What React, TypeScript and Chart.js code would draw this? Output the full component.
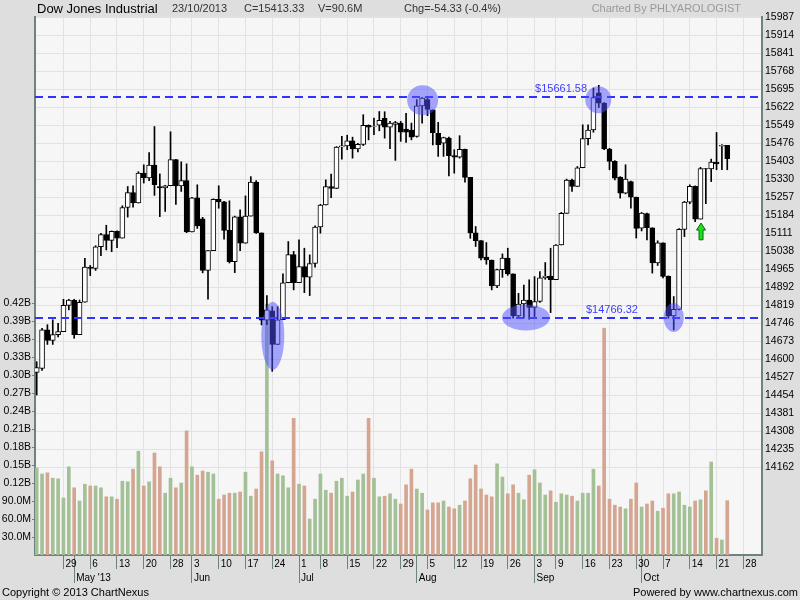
import React, { useEffect, useRef } from "react";
import { Chart, registerables } from "chart.js";

Chart.register(...registerables);

// ---------- DATA (Dow Jones Industrial, daily, 22 Apr 2013 – 23 Oct 2013) ----------
const openP = [
  14547, 14563, 14719, 14676, 14700, 14712, 14818, 14839, 14700, 14831,
  14973, 14968, 15056, 15105, 15082, 15118, 15091, 15215, 15275, 15233,
  15354, 15335, 15387, 15300, 15294, 15303, 15409, 15302, 15324, 15116,
  15254, 15169, 14960, 15040, 15248, 15238, 15122, 14995, 15177, 15070,
  15180, 15318, 15112, 14758, 14796, 14660, 14760, 14910, 15024, 14910,
  14975, 14933, 14988, 15136, 15225, 15300, 15292, 15460, 15465, 15485,
  15452, 15471, 15548, 15544, 15549, 15576, 15541, 15552, 15557, 15533,
  15529, 15503, 15627, 15652, 15611, 15516, 15476, 15496, 15425, 15419,
  15451, 15337, 15112, 15081, 15014, 15002, 14897, 14963, 15010, 14946,
  14776, 14824, 14840, 14810, 14834, 14930, 14937, 14922, 15063, 15191,
  15326, 15300, 15376, 15494, 15529, 15680, 15638, 15452, 15402, 15338,
  15273, 15320, 15257, 15131, 15190, 15133, 14990, 15072, 14936, 14776,
  14802, 15126, 15237, 15301, 15168, 15373, 15371, 15399, 15463, 15467,
];
const highP = [
  14590, 14725, 14740, 14760, 14746, 14843, 14843, 14843, 14840, 15009,
  14980, 15060, 15110, 15143, 15120, 15120, 15222, 15300, 15303, 15360,
  15388, 15438, 15543, 15351, 15305, 15522, 15410, 15400, 15392, 15256,
  15307, 15175, 15040, 15250, 15303, 15240, 15242, 15180, 15205, 15262,
  15340, 15324, 15112, 14858, 14813, 14813, 14946, 15077, 15037, 15084,
  15050, 15023, 15141, 15228, 15327, 15350, 15462, 15503, 15508, 15500,
  15475, 15591, 15550, 15577, 15604, 15603, 15564, 15564, 15564, 15597,
  15557, 15652, 15660, 15658, 15611, 15560, 15500, 15500, 15449, 15506,
  15452, 15337, 15138, 15081, 15073, 15002, 14965, 15027, 15050, 14946,
  14867, 14901, 14922, 14935, 14955, 14992, 15050, 15065, 15195, 15330,
  15330, 15381, 15550, 15550, 15699, 15710, 15640, 15455, 15405, 15340,
  15388, 15322, 15257, 15195, 15192, 15133, 15080, 15072, 14938, 14854,
  15130, 15240, 15307, 15303, 15378, 15373, 15411, 15519, 15470, 15467,
];
const lowP = [
  14455, 14555, 14660, 14660, 14690, 14712, 14800, 14685, 14700, 14831,
  14939, 14960, 15020, 15043, 15036, 15052, 15091, 15176, 15216, 15233,
  15314, 15324, 15264, 15178, 15199, 15303, 15227, 15280, 15113, 15116,
  15130, 14950, 14843, 15040, 15212, 15087, 14990, 14951, 15040, 15070,
  15180, 15110, 14739, 14740, 14551, 14660, 14760, 14910, 14881, 14910,
  14870, 14858, 14973, 15111, 15225, 15255, 15292, 15411, 15449, 15415,
  15440, 15466, 15489, 15510, 15526, 15496, 15453, 15406, 15483, 15479,
  15489, 15500, 15557, 15587, 15469, 15422, 15422, 15343, 15354, 15415,
  15318, 15090, 15057, 15003, 14985, 14881, 14890, 14932, 14940, 14766,
  14766, 14766, 14762, 14773, 14830, 14924, 14789, 14922, 15063, 15191,
  15280, 15300, 15376, 15469, 15520, 15620, 15449, 15368, 15327, 15253,
  15270, 15212, 15091, 15120, 15084, 14949, 14980, 14930, 14766, 14719,
  14800, 15097, 15230, 15158, 15168, 15230, 15320, 15368, 15368, 15368,
];
const closeP = [
  14566, 14719, 14676, 14700, 14712, 14818, 14840, 14700, 14831, 14973,
  14968, 15056, 15105, 15082, 15118, 15091, 15215, 15275, 15233, 15354,
  15335, 15387, 15307, 15294, 15303, 15409, 15302, 15324, 15116, 15254,
  15140, 14960, 15040, 15248, 15238, 15122, 14995, 15177, 15070, 15180,
  15318, 15112, 14758, 14800, 14660, 14760, 14910, 15024, 14910, 14975,
  14933, 14988, 15136, 15225, 15300, 15292, 15460, 15465, 15485, 15452,
  15471, 15548, 15540, 15545, 15568, 15541, 15557, 15559, 15520, 15520,
  15500, 15627, 15658, 15612, 15518, 15470, 15498, 15425, 15419, 15451,
  15337, 15112, 15081, 15010, 15002, 14897, 14963, 15010, 14946, 14776,
  14824, 14840, 14810, 14834, 14930, 14937, 14922, 15063, 15191, 15326,
  15300, 15376, 15494, 15529, 15660, 15638, 15452, 15402, 15334, 15273,
  15330, 15257, 15130, 15192, 15133, 14990, 15072, 14936, 14776, 14802,
  15126, 15237, 15301, 15168, 15373, 15371, 15399, 15392, 15467, 15413,
];
// volume in millions of shares
const volumeM = [
  145, 135, 137, 128, 127, 95, 147, 112, 90, 118,
  115, 115, 112, 97, 97, 93, 123, 122, 143, 173,
  115, 122, 170, 147, 103, 128, 112, 120, 207, 147,
  133, 140, 138, 135, 93, 100, 103, 103, 105, 138,
  98, 110, 172, 418, 157, 135, 132, 112, 228, 118,
  115, 60, 93, 135, 108, 103, 123, 128, 98, 105,
  125, 135, 228, 128, 97, 98, 102, 93, 85, 117,
  143, 110, 103, 75, 87, 87, 90, 80, 77, 83,
  90, 127, 150, 110, 100, 97, 152, 130, 102, 117,
  103, 92, 133, 142, 120, 100, 107, 88, 102, 100,
  98, 90, 103, 103, 143, 115, 378, 93, 83, 80,
  77, 93, 120, 80, 85, 90, 73, 78, 102, 102,
  105, 83, 80, 90, 92, 107, 155, 28, 25, 90.6,
];

// trading-day index of each weekly tick and its label
const weekTickIdx = [5, 10, 15, 20, 25, 29, 34, 39, 44, 49, 53, 58, 63, 68, 73, 78, 83, 88, 93, 97, 102, 107, 112, 117, 122, 127, 132];
const weekTickLabels = ["29", "6", "13", "20", "28", "3", "10", "17", "24", "1", "8", "15", "22", "29", "5", "12", "19", "26", "3", "9", "16", "23", "30", "7", "14", "21", "28"];
const monthTickIdx = [7, 29, 49, 71, 93, 113];
const monthTickLabels = ["May '13", "Jun", "Jul", "Aug", "Sep", "Oct"];

const priceTicks = Array.from({ length: 26 }, (_, k) => 14162 + 73 * k);
const volumeTicksM = [30, 60, 90, 120, 150, 180, 210, 240, 270, 300, 330, 360, 390, 420];

const levelPrices = [15661.58, 14766.32];
const levelLabelIdx = [93.1, 102.6];

// highlight ellipses: day index, price, radius x px, radius y px
const highlightIdx = [72.1, 104.9, 44.1, 91.4, 119.0];
const highlightPrice = [15650, 15652, 14695, 14769, 14769];
const highlightRx = [15.5, 13, 11.5, 24, 10];
const highlightRy = [15, 13.5, 34, 13, 14.5];

const arrowIdx = 124.1;
const arrowTop = 15152;
const arrowBottom = 15084;

const X_MIN = -0.318;
const X_MAX = 135.49;
const P_MIN = 13806.6;
const P_MAX = 15987;
const V_MAX = 896.7;

const AXIS = "#6f8282";
const GRID = "#e2e2e2";
const FONT = '"Liberation Sans", Arial, sans-serif';

const fmtVol = (v: number) => (v < 100 ? v.toFixed(1) + "M" : (v / 1000).toFixed(2) + "B");

// ticks for the day axis: every week, plus month starts that are not week ticks (tick mark only)
const dayAxisTicks = Array.from(new Set([...weekTickIdx, ...monthTickIdx])).sort((a, b) => a - b);

const decor = {
  id: "decor",
  beforeDraw(chart: any) {
    const { ctx, chartArea: a } = chart;
    ctx.save();
    ctx.fillStyle = "#dedede";
    ctx.fillRect(0, 0, chart.width, chart.height);
    ctx.fillStyle = "#f6f6f6";
    ctx.fillRect(a.left, a.top, a.right - a.left, a.bottom - a.top);
    ctx.restore();
  },
  afterDatasetsDraw(chart: any) {
    const { ctx, chartArea: a } = chart;
    const xs = chart.scales.x;
    const ys = chart.scales.yp;
    ctx.save();
    // level lines
    ctx.strokeStyle = "rgb(50,50,255)";
    ctx.lineWidth = 2;
    ctx.setLineDash([8, 5]);
    levelPrices.forEach((p) => {
      const y = Math.round(ys.getPixelForValue(p));
      ctx.beginPath();
      ctx.moveTo(a.left, y);
      ctx.lineTo(a.right, y);
      ctx.stroke();
    });
    ctx.setLineDash([]);
    ctx.fillStyle = "rgb(60,60,255)";
    ctx.font = "11px " + FONT;
    ctx.textBaseline = "middle";
    ctx.textAlign = "left";
    levelPrices.forEach((p, i) => {
      const y = ys.getPixelForValue(p);
      ctx.fillText("$" + p.toFixed(2), xs.getPixelForValue(levelLabelIdx[i]), y - 8);
    });
    // highlight ellipses
    ctx.fillStyle = "rgba(80,80,255,0.5)";
    highlightIdx.forEach((d, i) => {
      ctx.beginPath();
      ctx.ellipse(xs.getPixelForValue(d), ys.getPixelForValue(highlightPrice[i]), highlightRx[i], highlightRy[i], 0, 0, Math.PI * 2);
      ctx.fill();
    });
    // green arrow
    const ax = xs.getPixelForValue(arrowIdx);
    const at = ys.getPixelForValue(arrowTop);
    const ab = ys.getPixelForValue(arrowBottom);
    ctx.beginPath();
    ctx.moveTo(ax, at);
    ctx.lineTo(ax + 4.5, at + 7);
    ctx.lineTo(ax + 2, at + 7);
    ctx.lineTo(ax + 2, ab);
    ctx.lineTo(ax - 2, ab);
    ctx.lineTo(ax - 2, at + 7);
    ctx.lineTo(ax - 4.5, at + 7);
    ctx.closePath();
    ctx.fillStyle = "#1fe01f";
    ctx.fill();
    ctx.strokeStyle = "#0a6a0a";
    ctx.lineWidth = 1;
    ctx.stroke();
    ctx.restore();
  },
  afterDraw(chart: any) {
    const { ctx } = chart;
    ctx.save();
    ctx.textBaseline = "middle";
    ctx.textAlign = "left";
    ctx.fillStyle = "#000";
    ctx.font = "13px " + FONT;
    ctx.fillText("Dow Jones Industrial", 37, 9);
    ctx.font = "11px " + FONT;
    ctx.fillStyle = "#333";
    ctx.fillText("23/10/2013", 172, 9);
    ctx.fillText("C=15413.33", 244, 9);
    ctx.fillText("V=90.6M", 318, 9);
    ctx.fillText("Chg=-54.33 (-0.4%)", 404, 9);
    ctx.fillStyle = "#9a9a9a";
    ctx.textAlign = "right";
    ctx.fillText("Charted By PHLYAROLOGIST", 741, 9);
    ctx.fillStyle = "#000";
    ctx.fillText("Powered by www.chartnexus.com", 798, 593);
    ctx.textAlign = "left";
    ctx.fillText("Copyright \u00A9 2013 ChartNexus", 2, 593);
    ctx.restore();
  },
};

export default function App() {
  const ref = useRef<HTMLCanvasElement>(null);
  useEffect(() => {
    document.body.style.margin = "0";
    const idx = openP.map((_, i) => i);
    const up = idx.map((i) => closeP[i] >= openP[i]);
    const chart = new Chart(ref.current as HTMLCanvasElement, {
      type: "bar",
      data: {
        datasets: [
          {
            label: "body",
            data: idx.map((i) => ({ x: i, y: [openP[i], closeP[i]] })) as any,
            xAxisID: "x",
            yAxisID: "yp",
            backgroundColor: up.map((u) => (u ? "#ffffff" : "#000000")),
            borderColor: "#000000",
            borderWidth: 1,
            borderSkipped: false,
            barThickness: 5,
            grouped: false,
            order: 1,
          } as any,
          {
            label: "wick",
            data: idx.map((i) => ({ x: i, y: [lowP[i], highP[i]] })) as any,
            xAxisID: "x",
            yAxisID: "yp",
            backgroundColor: "#000000",
            borderWidth: 0,
            barThickness: 1,
            grouped: false,
            order: 2,
          } as any,
          {
            label: "volume",
            data: idx.map((i) => ({ x: i, y: volumeM[i] })) as any,
            xAxisID: "x",
            yAxisID: "yv",
            backgroundColor: up.map((u) => (u ? "#a3c096" : "#d4a692")),
            borderWidth: 0,
            barThickness: 3,
            grouped: false,
            order: 3,
          } as any,
        ],
      },
      options: {
        responsive: false,
        animation: false,
        events: [],
        layout: { padding: { top: 17, left: 0, right: 0, bottom: 0 } },
        plugins: { legend: { display: false }, tooltip: { enabled: false } },
        scales: {
          x: {
            type: "linear",
            position: "bottom",
            weight: 0,
            min: X_MIN,
            max: X_MAX,
            offset: false,
            afterBuildTicks: (s: any) => {
              s.ticks = dayAxisTicks.map((v) => ({ value: v }));
            },
            afterFit: (s: any) => {
              s.height = 14;
            },
            ticks: {
              autoSkip: false,
              maxRotation: 0,
              minRotation: 0,
              align: "start",
              labelOffset: 2,
              padding: -11,
              color: "#000",
              font: { family: FONT, size: 10 },
              callback: (v: any) => {
                const k = weekTickIdx.indexOf(v);
                return k >= 0 ? weekTickLabels[k] : "";
              },
            },
            grid: {
              color: (c: any) => (c.tick && weekTickIdx.indexOf(c.tick.value) < 0 ? "rgba(0,0,0,0)" : GRID),
              tickColor: AXIS,
              tickLength: 14,
              lineWidth: 1,
              offset: false,
            },
            border: { color: AXIS, width: 2 },
          } as any,
          xm: {
            type: "linear",
            position: "bottom",
            weight: 1,
            min: X_MIN,
            max: X_MAX,
            offset: false,
            afterBuildTicks: (s: any) => {
              s.ticks = monthTickIdx.map((v) => ({ value: v }));
            },
            afterFit: (s: any) => {
              s.height = 31;
            },
            ticks: {
              autoSkip: false,
              maxRotation: 0,
              minRotation: 0,
              align: "start",
              labelOffset: 2,
              padding: -11,
              color: "#000",
              font: { family: FONT, size: 10 },
              callback: (v: any) => {
                const k = monthTickIdx.indexOf(v);
                return k >= 0 ? monthTickLabels[k] : "";
              },
            },
            grid: { drawOnChartArea: false, tickColor: AXIS, tickLength: 14, offset: false },
            border: { display: false },
          } as any,
          yp: {
            type: "linear",
            position: "right",
            min: P_MIN,
            max: P_MAX,
            afterBuildTicks: (s: any) => {
              s.ticks = priceTicks.map((v) => ({ value: v }));
            },
            afterFit: (s: any) => {
              s.width = 38;
            },
            ticks: {
              padding: 3,
              color: "#000",
              font: { family: FONT, size: 10.5 },
              callback: (v: any) => String(v),
            },
            grid: { color: GRID, drawTicks: false },
            border: { color: AXIS, width: 2 },
          } as any,
          yv: {
            type: "linear",
            position: "left",
            min: 0,
            max: V_MAX,
            afterBuildTicks: (s: any) => {
              s.ticks = volumeTicksM.map((v) => ({ value: v }));
            },
            afterFit: (s: any) => {
              s.width = 35;
            },
            ticks: {
              padding: 1,
              color: "#000",
              font: { family: FONT, size: 10.5 },
              callback: (v: any) => fmtVol(v),
            },
            grid: { drawOnChartArea: false, tickColor: AXIS, tickLength: 3 },
            border: { color: AXIS, width: 2 },
          } as any,
        },
      },
      plugins: [decor],
    });
    return () => chart.destroy();
  }, []);
  return <canvas ref={ref} width={800} height={600} style={{ display: "block" }} />;
}
